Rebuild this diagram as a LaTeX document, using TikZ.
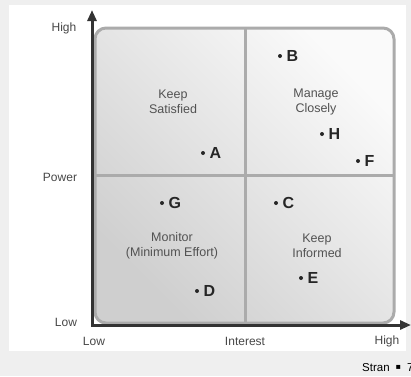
\documentclass[tikz,border=0pt]{standalone}
\usepackage{fontspec}
\setmainfont{Liberation Sans}
\newfontfamily\symfont{DejaVu Sans}
\usetikzlibrary{arrows.meta}
\definecolor{pagegray}{HTML}{EFEFEF}
\definecolor{framegray}{HTML}{ABABAB}
\definecolor{axisgray}{HTML}{333333}
\tikzset{
    x=1pt, y=-1pt, % pixel-like coordinates, origin top left
    }

\begin{document}
\begin{tikzpicture}[
quadlabel/.style={text=black!68, align=center, font=\fontsize{12.5}{15}\selectfont},
axislabel/.style={text=black!72, font=\fontsize{12}{14}\selectfont},
stake/.style={circle, fill=black!85, inner sep=0pt, minimum size=4pt,
  label={[text=black!85, font=\bfseries\fontsize{16}{16}\selectfont, label distance=1pt]right:#1}},
axisline/.style={draw=axisgray, line width=3pt, {Triangle[length=11pt,width=9pt]}-{Triangle[length=11pt,width=9pt]}},
gridline/.style={draw=framegray, line width=3pt},
]
\useasboundingbox (0,0) rectangle (411,376);
\fill[pagegray] (0,0) rectangle (411,376);
\fill[white] (9,5) rectangle (406,351);

% the grid
\draw[gridline, rounded corners=11pt, left color=black!19, right color=black!2, shading angle=135]
  (95,28) rectangle (394,323);
\coordinate (midtop) at (245,28);
\coordinate (midbot) at (245,323);
\coordinate (midleft) at (95,175);
\coordinate (midright) at (394,175);
\draw[gridline] (midtop) -- (midbot);
\draw[gridline] (midleft) -- (midright);

% axes
\coordinate (ytip) at (92,10);
\coordinate (xtip) at (411,325);
\draw[axisline] (ytip) |- (xtip);

\node[axislabel] (yhigh) at (64,28) {High};
\node[axislabel] (ymid) at (60,177) {Power};
\node[axislabel] (ylow) at (66,322) {Low};
\node[axislabel] (xlow) at (94,341) {Low};
\node[axislabel] (xmid) at (245,341) {Interest};
\node[axislabel] (xhigh) at (387,341) {High};

% quadrants
\node[quadlabel] (satisfied) at (173,102) {Keep\\Satisfied};
\node[quadlabel] (manage) at (316,102) {Manage\\Closely};
\node[quadlabel] (monitor) at (172,246) {Monitor\\(Minimum Effort)};
\node[quadlabel] (informed) at (317,246) {Keep\\Informed};

% stakeholders
\node[stake=B] (b) at (280,56) {};
\node[stake=A] (a) at (203,153) {};
\node[stake=H] (h) at (322,134) {};
\node[stake=F] (f) at (358,161) {};
\node[stake=G] (g) at (162,203) {};
\node[stake=C] (c) at (276,203) {};
\node[stake=E] (e) at (301,278) {};
\node[stake=D] (d) at (197,291) {};

\node[anchor=west, font=\fontsize{11.5}{13}\selectfont, inner sep=0pt] (page) at (362,368)
  {Stran\hspace{6pt}\raisebox{2pt}{\symfont\fontsize{8}{8}\selectfont ▪}\hspace{6pt}7};
\end{tikzpicture}
\end{document}
